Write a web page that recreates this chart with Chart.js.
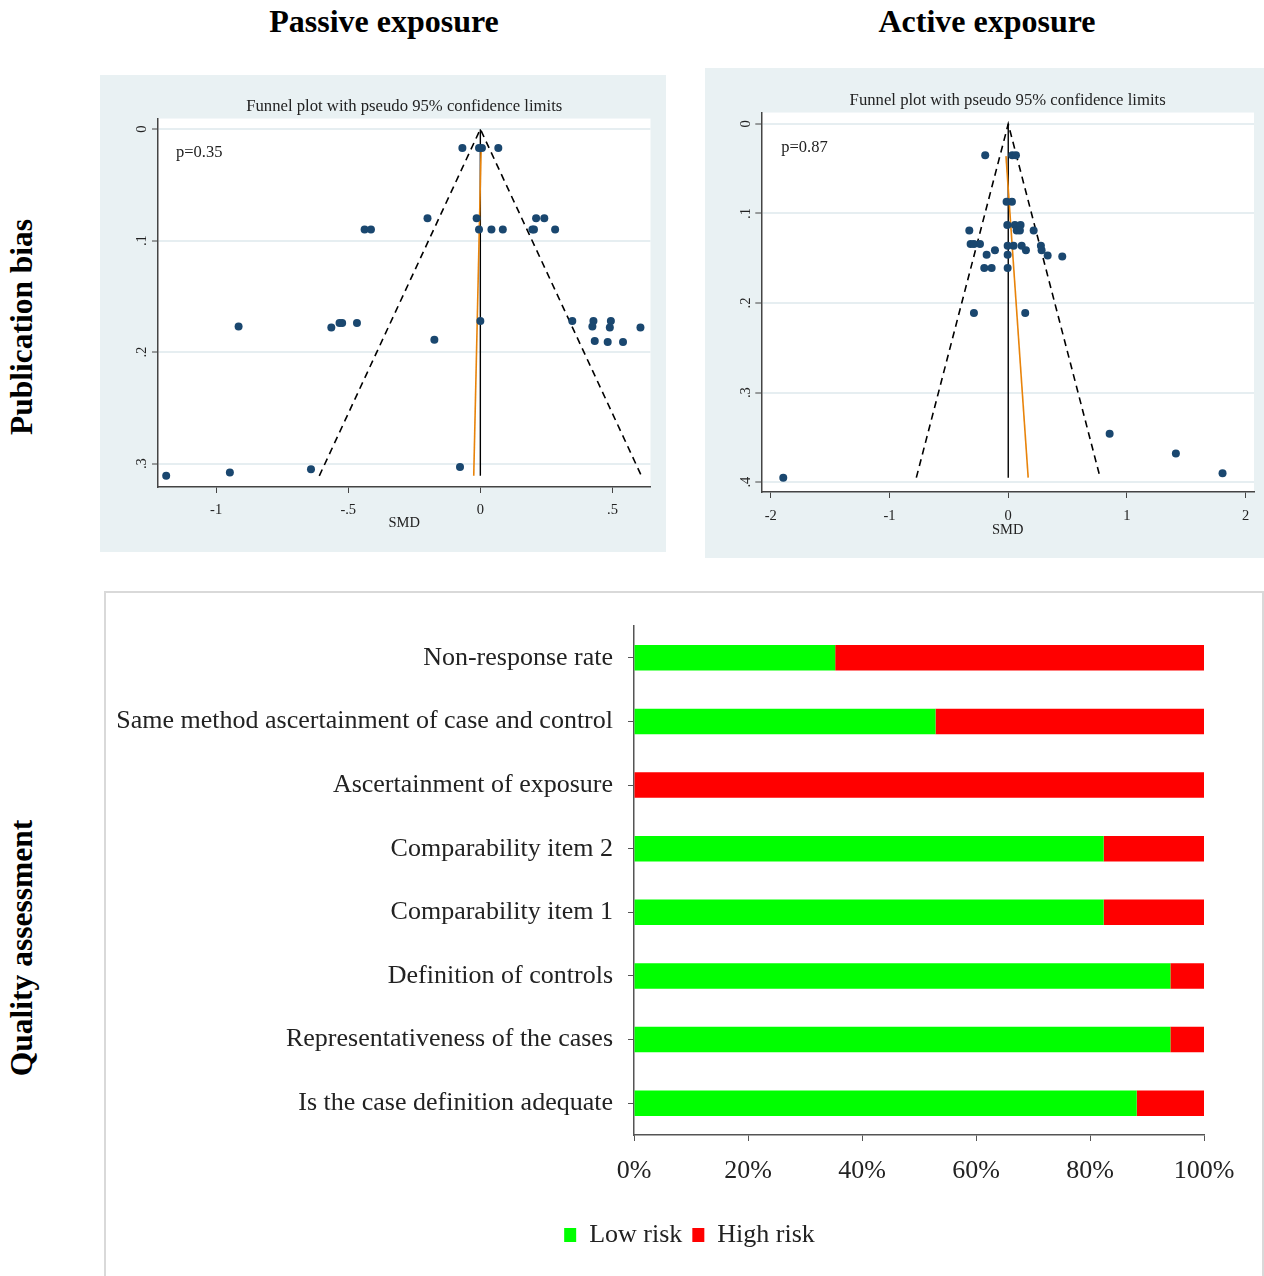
<!DOCTYPE html>
<html>
<head>
<meta charset="utf-8">
<script src="https://cdn.jsdelivr.net/npm/chart.js@4.4.0/dist/chart.umd.min.js"></script>
<style>
  body { margin: 0; background: #fff; width: 1264px; height: 1276px; position: relative; overflow: hidden; font-family: 'Liberation Serif', serif; }
  .head { position: absolute; font-weight: bold; font-size: 32px; color: #000; text-align: center; width: 400px; line-height: 34px; }
  .side { position: absolute; font-weight: bold; font-size: 31.5px; color: #000; text-align: center; width: 400px; line-height: 34px; transform: rotate(-90deg); transform-origin: 50% 50%; }
  canvas { position: absolute; }
  #passive { left: 100px; top: 75px; background: #e9f1f3; }
  #active { left: 705px; top: 68px; background: #e9f1f3; }
  .box { position: absolute; left: 104px; top: 591px; width: 1160px; height: 690px; border: 2px solid #d9d9d9; box-sizing: border-box; }
  #quality { left: 105px; top: 592px; }
</style>
</head>
<body>
<div class="head" style="left:184px; top:4px;">Passive exposure</div>
<div class="head" style="left:787px; top:4px;">Active exposure</div>
<div class="side" style="left:-178px; top:310px;">Publication bias</div>
<div class="side" style="left:-178px; top:931px;">Quality assessment</div>

<canvas id="passive" width="566" height="477"></canvas>
<canvas id="active" width="559" height="490"></canvas>
<div class="box"></div>
<canvas id="quality" width="1159" height="684"></canvas>

<script>
// ---- funnel plot data (SMD vs standard error) ----
const passiveSMD = [-0.068, -0.005, 0.006, 0.068, -0.20, -0.014, 0.211, 0.242,
  -0.438, -0.414, -0.005, 0.042, 0.085, 0.197, 0.203, 0.283,
  -0.915, -0.564, -0.533, -0.523, -0.467, 0.000, -0.174, 0.348,
  0.428, 0.424, 0.494, 0.490, 0.433, 0.482, 0.540, 0.606,
  -1.189, -0.948, -0.641, -0.077];
const passiveSE = [0.017, 0.017, 0.017, 0.017, 0.080, 0.080, 0.080, 0.080,
  0.090, 0.090, 0.090, 0.090, 0.090, 0.090, 0.090, 0.090,
  0.177, 0.178, 0.174, 0.174, 0.174, 0.172, 0.189, 0.172,
  0.172, 0.177, 0.172, 0.178, 0.190, 0.191, 0.191, 0.178,
  0.311, 0.308, 0.305, 0.303];
const passiveEgger = [[0.003, 0.017], [-0.025, 0.311]];
const passiveP = 'p=0.35';

const activeSMD = [-0.194, 0.034, 0.065, -0.014, 0.031, -0.008, 0.056, 0.104,
  0.071, 0.098, -0.328, 0.214, -0.317, -0.289, -0.238, -0.005,
  0.045, 0.113, 0.149, 0.275, 0.281, -0.112, -0.182, -0.005,
  0.332, 0.455, -0.202, -0.140, -0.005, -0.289, 0.143,
  -1.895, 0.854, 1.412, 1.805];
const activeSE = [0.035, 0.035, 0.035, 0.087, 0.087, 0.113, 0.113, 0.113,
  0.119, 0.119, 0.119, 0.119, 0.134, 0.134, 0.134, 0.136,
  0.136, 0.136, 0.141, 0.136, 0.141, 0.141, 0.146, 0.146,
  0.147, 0.148, 0.161, 0.161, 0.161, 0.211, 0.211,
  0.395, 0.346, 0.368, 0.390];
const activeEgger = [[-0.019, 0.036], [0.168, 0.395]];
const activeP = 'p=0.87';

const passiveXTicks = [-1, -0.5, 0, 0.5];
const passiveYTicks = [0, 0.1, 0.2, 0.3];
const activeXTicks = [-2, -1, 0, 1, 2];
const activeYTicks = [0, 0.1, 0.2, 0.3, 0.4];

// ---- quality assessment data (% of studies) ----
const criteria = ['Non-response rate', 'Same method ascertainment of case and control',
  'Ascertainment of exposure', 'Comparability item 2', 'Comparability item 1',
  'Definition of controls', 'Representativeness of the cases', 'Is the case definition adequate'];
const lowRisk = [35.3, 52.9, 0, 82.4, 82.4, 94.1, 94.1, 88.2];
const highRisk = [64.7, 47.1, 100, 17.6, 17.6, 5.9, 5.9, 11.8];
const pctTicks = [0, 20, 40, 60, 80, 100];

const SERIF = 'Liberation Serif';
const INK = '#222';

function stataNum(v) {
  // Stata style labels: .5, -.5, 0
  return String(+v.toFixed(2)).replace(/^(-?)0\./, '$1.');
}

const plotBg = {
  id: 'plotBg',
  beforeDraw(chart) {
    const { ctx, chartArea: a } = chart;
    ctx.save();
    ctx.fillStyle = '#fff';
    ctx.fillRect(a.left, a.top, a.right - a.left, a.bottom - a.top);
    ctx.restore();
  },
  afterDraw(chart, args, opts) {
    if (!opts.text) return;
    const { ctx, chartArea: a } = chart;
    ctx.save();
    ctx.font = '16.5px "' + SERIF + '"';
    ctx.fillStyle = INK;
    ctx.textBaseline = 'middle';
    ctx.fillText(opts.text, a.left + opts.dx, a.top + opts.dy);
    ctx.restore();
  }
};

function funnel(id, smd, se, egger, pText, xTicks, yTicks, lim, box) {
  const seMax = Math.max(...se);
  const ci = 1.96 * seMax;
  const pts = smd.map((x, i) => ({ x: x, y: se[i] }));
  return new Chart(document.getElementById(id), {
    type: 'scatter',
    data: {
      datasets: [
        { data: pts, backgroundColor: '#1a476f', borderWidth: 0, pointRadius: 4, order: 0 },
        { data: [{ x: -ci, y: seMax }, { x: 0, y: 0 }, { x: ci, y: seMax }], showLine: true,
          borderColor: '#000', borderWidth: 1.6, borderDash: [7, 5], pointRadius: 0, order: 2 },
        { data: [{ x: 0, y: 0 }, { x: 0, y: seMax }], showLine: true,
          borderColor: '#000', borderWidth: 1.4, pointRadius: 0, order: 2 },
        { data: egger.map(p => ({ x: p[0], y: p[1] })), showLine: true,
          borderColor: '#e8830a', borderWidth: 1.6, pointRadius: 0, order: 1 }
      ]
    },
    options: {
      responsive: false,
      animation: false,
      devicePixelRatio: 1,
      layout: { padding: { left: 0, right: box.right, top: 0, bottom: box.bottom } },
      plugins: {
        legend: { display: false },
        tooltip: { enabled: false },
        title: {
          display: true, fullSize: false,
          text: 'Funnel plot with pseudo 95% confidence limits',
          color: INK, font: { family: SERIF, size: 16.7, weight: 'normal' },
          padding: { top: box.titleTop, bottom: box.titleBottom }
        },
        plotBg: { text: pText, dx: box.pdx, dy: box.pdy }
      },
      scales: {
        x: {
          type: 'linear', min: lim[0], max: lim[1],
          afterBuildTicks: s => { s.ticks = xTicks.map(v => ({ value: v })); },
          afterFit: s => { s.height = box.xh; },
          ticks: { callback: v => stataNum(v), color: INK, font: { family: SERIF, size: 14.5 }, padding: box.xpad },
          grid: { drawOnChartArea: false, tickLength: 6, color: '#444' },
          border: { color: '#444', width: 1.5 },
          title: { display: true, text: 'SMD', color: INK, font: { family: SERIF, size: 14.5 }, padding: 0 }
        },
        y: {
          type: 'linear', reverse: true, min: lim[2], max: lim[3],
          afterBuildTicks: s => { s.ticks = yTicks.map(v => ({ value: v })); },
          afterFit: s => { s.width = box.yw; },
          ticks: { callback: v => stataNum(v), color: INK, font: { family: SERIF, size: 14.5 },
            minRotation: 90, maxRotation: 90, crossAlign: 'center', padding: 4 },
          grid: { color: '#e6eef1', lineWidth: 2, tickColor: '#444', tickWidth: 1, tickLength: 6 },
          border: { color: '#444', width: 1.5 }
        }
      }
    },
    plugins: [plotBg]
  });
}

funnel('passive', passiveSMD, passiveSE, passiveEgger, passiveP, passiveXTicks, passiveYTicks,
  [-1.22, 0.644, -0.0095, 0.321],
  { right: 15.5, bottom: 20.6, titleTop: 21.4, titleBottom: 2.1, yw: 58, xh: 44.4, xpad: 8, pdx: 18, pdy: 34 });

funnel('active', activeSMD, activeSE, activeEgger, activeP, activeXTicks, activeYTicks,
  [-2.08, 2.07, -0.0127, 0.411],
  { right: 10, bottom: 19.6, titleTop: 22.4, titleBottom: 2.1, yw: 56.3, xh: 46.4, xpad: 9, pdx: 20, pdy: 35 });

// nudge the legend so it sits under the bars like the original
const legendShift = {
  id: 'legendShift',
  afterLayout(chart, args, opts) {
    if (!chart.legend) return;
    chart.legend.left += opts.dx;
    chart.legend.right += opts.dx;
  }
};

// ---- stacked horizontal bar: quality assessment ----
new Chart(document.getElementById('quality'), {
  type: 'bar',
  data: {
    labels: criteria,
    datasets: [
      { label: 'Low risk', data: lowRisk, backgroundColor: '#00ff00' },
      { label: 'High risk', data: highRisk, backgroundColor: '#ff0000' }
    ]
  },
  options: {
    indexAxis: 'y',
    responsive: false,
    animation: false,
    devicePixelRatio: 1,
    datasets: { bar: { barPercentage: 0.4, categoryPercentage: 1 } },
    layout: { padding: { top: 34, right: 60, bottom: 18, left: 0 } },
    plugins: {
      tooltip: { enabled: false },
      legendShift: { dx: 35 },
      legend: {
        position: 'bottom',
        labels: { boxWidth: 12, boxHeight: 14, padding: 10, color: INK, font: { family: SERIF, size: 26 } }
      }
    },
    scales: {
      x: {
        stacked: true, min: 0, max: 100,
        afterBuildTicks: s => { s.ticks = pctTicks.map(v => ({ value: v })); },
        afterFit: s => { s.height = 77; },
        ticks: { callback: v => v + '%', color: INK, font: { family: SERIF, size: 26 }, padding: 15 },
        grid: { drawOnChartArea: false, tickLength: 6, color: '#555' },
        border: { color: '#555', width: 1.5 }
      },
      y: {
        stacked: true,
        afterFit: s => { s.width = 529; },
        ticks: { color: INK, font: { family: SERIF, size: 26 }, padding: 15 },
        grid: { drawOnChartArea: false, offset: false, tickLength: 6, color: '#555' },
        border: { color: '#555', width: 1.5 }
      }
    }
  },
  plugins: [legendShift]
});
</script>
</body>
</html>
